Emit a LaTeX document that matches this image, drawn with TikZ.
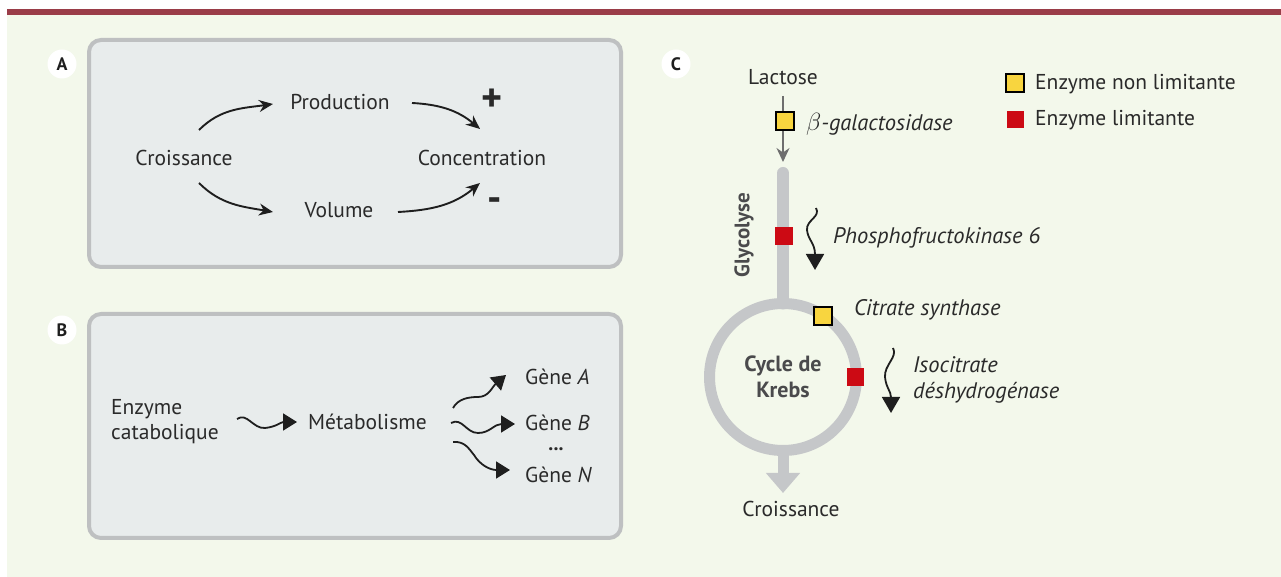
\documentclass[tikz,border=0pt]{standalone}
\usepackage{fontspec}
\setmainfont{PT Sans}
\usetikzlibrary{arrows.meta}
\definecolor{bgc}{HTML}{F3F8EB}
\definecolor{topbar}{HTML}{9A3D48}
\definecolor{boxfill}{HTML}{E8ECEC}
\definecolor{boxline}{HTML}{BEC0C1}
\definecolor{pathc}{HTML}{C5C7C9}
\definecolor{enzy}{HTML}{F8D53F}
\definecolor{enzr}{HTML}{CC0A14}
\definecolor{txtc}{HTML}{2A2A2A}
\definecolor{arrc}{HTML}{1E1E1E}
\definecolor{thinc}{HTML}{6E6E6E}
\definecolor{krebc}{HTML}{4A4A4C}
\tikzset{
  txt/.style={font=\fontsize{21.5}{25}\selectfont, text=txtc, inner sep=1pt},
  itx/.style={txt, font=\fontsize{22.5}{26}\selectfont\itshape},
  panel/.style={draw=boxline, line width=4pt, fill=boxfill, rounded corners=12pt, inner sep=0pt},
  lab/.style={circle, fill=white, minimum size=29pt, inner sep=0pt, text=arrc, font=\fontsize{18}{18}\selectfont\bfseries},
  arr/.style={line width=1.9pt, draw=arrc, -{Stealth[length=14pt,width=12pt]}},
  wav/.style={line width=1.8pt, draw=arrc, -{Triangle[length=14pt,width=17pt]}},
  ybox/.style={draw=black, line width=2.2pt, fill=enzy, minimum width=18pt, minimum height=18pt, inner sep=0pt},
  rbox/.style={fill=enzr, minimum width=17pt, minimum height=18pt, inner sep=0pt},
}
\begin{document}
\begin{tikzpicture}[x=1pt,y=1pt]
\useasboundingbox (0,0) rectangle (1281,577);
\fill[white] (0,0) rectangle (1281,577);
\fill[bgc] (7,0) rectangle (1281,562);
\fill[topbar] (7,562) rectangle (1281,568);

% ---------- Panel A ----------
\node[panel, minimum width=532pt, minimum height=227pt] (pA) at (355,423.5) {};
\node[lab] (lA) at (62,513) {A};
\node[txt] (croA) at (184,419) {Croissance};
\node[txt] (prod) at (340,475) {Production};
\node[txt] (conc) at (482,419) {Concentration};
\node[txt] (vol) at (339,367) {Volume};
\node[txt, font=\fontsize{40}{40}\selectfont\bfseries] (plus) at (492,477) {+};
\node[txt, font=\fontsize{40}{40}\selectfont\bfseries] (minus) at (495,372) {-};
\draw[arr] ([shift={(15,28)}]croA.center) to[out=45,in=188] ([shift={(-67,-2)}]prod.center);
\draw[arr] ([shift={(72,-1)}]prod.center) to[out=-3,in=140] ([shift={(-2,29)}]conc.center);
\draw[arr] ([shift={(15,-25)}]croA.center) to[out=-45,in=170] ([shift={(-66,-2)}]vol.center);
\draw[arr] ([shift={(59,-2)}]vol.center) to[out=3,in=-140] ([shift={(-2,-25)}]conc.center);

% ---------- Panel B ----------
\node[panel, minimum width=532pt, minimum height=224pt] (pB) at (355,151) {};
\node[lab] (lB) at (62,247) {B};
\node[txt, anchor=west, align=left] (enz) at (110,155) {Enzyme\\catabolique};
\node[txt, anchor=west] (met) at (307,155) {Métabolisme};
\node[txt, anchor=west] (gA) at (524,200) {Gène \textit{A}};
\node[txt, anchor=west] (gB) at (524,154) {Gène \textit{B}};
\node[txt, inner sep=0pt, text height=4pt, text depth=0pt, font=\fontsize{20}{20}\selectfont\bfseries] (dots) at (556,128) {...};
\node[txt, anchor=west] (gN) at (524,102) {Gène \textit{N}};
\coordinate (w1s) at (237,158);
\coordinate (wAs) at (453,169);
\coordinate (wBs) at (451,154);
\coordinate (wNs) at (453,135);
\draw[wav] (w1s) .. controls (247,165) and (253,148) .. (265,149) .. controls (276,150) and (281,155) .. ([xshift=-10pt]met.west);
\draw[wav] (wAs) .. controls (458,178) and (468,180) .. (478,180) .. controls (489,180) and (492,190) .. ([shift={(-18,2)}]gA.west);
\draw[wav] (wBs) .. controls (462,160) and (466,144) .. (478,144) .. controls (490,144) and (494,153) .. ([shift={(-9,-1)}]gB.west);
\draw[wav] (wNs) .. controls (465,136) and (469,128) .. (474,122) .. controls (480,112) and (490,107) .. ([shift={(-14,5)}]gN.west);

% ---------- Panel C ----------
\node[lab] (lC) at (676,513) {C};
\node[txt] (lac) at (783,500) {Lactose};
\coordinate (lacend) at (783,415);
\coordinate (glytop) at (783,404);
\coordinate (kc) at (783,200);
\coordinate (krtop) at (783,273.5);
\coordinate (krbot) at (783,126.5);
\coordinate (crend) at (783,84);
% pathway
\draw[pathc, line width=12pt, line cap=round] (glytop) -- (krtop);
\draw[pathc, line width=11pt] (kc) circle[radius=73.5pt];
\draw[pathc, line width=11pt, -{Triangle[length=20pt,width=33pt]}] (krbot) -- (crend);
\draw[thinc, line width=1.6pt, -{Stealth[length=14pt,width=13pt]}] ([yshift=-10pt]lac.south) -- (lacend);
\node[ybox] (bgal) at (785,456) {};
\node[itx, anchor=west] (bgalt) at (805,453) {{\fontsize{28}{28}\selectfont$\beta$}-galactosidase};
% legend
\node[ybox] (legy) at (1015,494) {};
\node[rbox, minimum width=17pt, minimum height=17pt] (legr) at (1015,457) {};
\node[txt, anchor=west] (legyt) at (1034,493) {Enzyme non limitante};
\node[txt, anchor=west] (legrt) at (1034,457) {Enzyme limitante};
% glycolyse
\node[rbox, minimum width=18pt] (pfk) at (784,341) {};
\node[txt, rotate=90, text=krebc, font=\fontsize{21}{21}\selectfont\bfseries] (gly) at (744,342) {Glycolyse};
\node[itx, anchor=west] (pfkt) at (832,339) {Phosphofructokinase 6};
\coordinate (pfks) at (816,369);
\coordinate (pfke) at (815,307);
\draw[line width=1.8pt, draw=arrc, -{Triangle[length=16pt,width=18pt]}] (pfks) .. controls (821,360) and (806,357) .. (807,347) .. controls (808,337) and (815,334) .. (pfke);
% krebs
\node[txt, text=krebc, align=center, font=\fontsize{22}{26}\selectfont\bfseries] (kreb) at (kc) {Cycle de\\Krebs};
\node[ybox] (cs) at (823,261) {};
\node[itx, anchor=west] (cst) at (853,267) {Citrate synthase};
\node[rbox] (idh) at (855,200) {};
\node[itx, anchor=west, align=left] (idht) at (912,197) {Isocitrate\\déshydrogénase};
\coordinate (idhs) at (893,229);
\coordinate (idhe) at (891,164);
\draw[line width=1.8pt, draw=arrc, -{Triangle[length=16pt,width=18pt]}] (idhs) .. controls (898,220) and (884,212) .. (885,200) .. controls (886,189) and (891,186) .. (idhe);
\node[txt] (cro) at (791,68) {Croissance};
\end{tikzpicture}
\end{document}
